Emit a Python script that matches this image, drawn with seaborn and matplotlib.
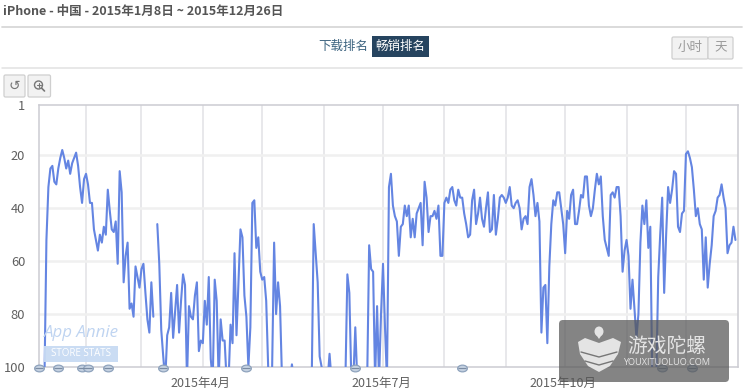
import matplotlib
matplotlib.use('Agg')
import matplotlib.pyplot as plt
import matplotlib.dates as mdates
from matplotlib.patches import Circle, Ellipse, FancyBboxPatch, Polygon, Rectangle
from matplotlib.path import Path
from matplotlib.transforms import Affine2D, ScaledTranslation
import pandas as pd
import seaborn as sns

n = None
rank = [
    n, n, n, 105, 52, 32, 25, 24, 30, 31,
    25, 21, 18, 21, 25, 22, 27, 23, 21, 19,
    24, 32, 38, 29, 27, 31, 38, 38, 48, 52,
    56, 50, 53, 47, 50, 33, 41, 48, 49, 45,
    61, 26, 34, 68, 58, 53, 78, 76, 81, 62,
    66, 70, 63, 61, 72, 82, 87, 68, 81, n,
    46, 61, 86, 96, 105, 88, 85, 72, 89, 79,
    69, 87, 75, 65, 69, 105, 77, 81, 82, 73,
    68, 94, 90, 91, 75, 84, 66, 97, 105, 67,
    75, 105, 82, 90, 90, 105, 105, 84, 91, 57,
    88, 68, 48, 51, 73, 81, 100, 85, 38, 37,
    55, 51, 64, 67, 66, 75, 100, 105, 100, 53,
    80, 68, 77, 105, n, n, n, 105, 99, 105,
    n, n, n, n, n, n, n, n, 105, 46,
    57, 68, 96, 100, 105, n, 105, 95, 105, n,
    n, n, n, n, n, 105, 65, 72, 105, 105,
    85, 105, n, n, n, n, 105, 54, 63, 64,
    105, 77, 105, 80, 61, 85, 105, 32, 27, 39,
    43, 45, 58, 47, 46, 39, 43, 39, 51, 44,
    51, 42, 40, 38, 54, 30, 36, 49, 43, 43,
    41, 44, 39, 58, 58, 38, 36, 38, 33, 32,
    37, 39, 33, 36, 36, 42, 46, 51, 50, 37,
    33, 46, 42, 36, 44, 47, 40, 34, 49, 48,
    35, 50, 44, 36, 35, 36, 38, 36, 32, 39,
    40, 38, 37, 40, 48, 44, 43, 46, 32, 29,
    35, 43, 38, 45, 87, 70, 69, 91, 62, 46,
    37, 39, 34, 34, 40, 46, 57, 41, 44, 35,
    33, 46, 46, 41, 35, 36, 28, 28, 39, 43,
    40, 33, 27, 31, 28, 43, 52, 55, 58, 35,
    34, 36, 32, 32, 43, 64, 56, 52, 58, 78,
    67, 78, 89, 80, 53, 39, 46, 37, 55, 47,
    105, 105, 105, 66, 50, 36, 72, 50, 32, 38,
    33, 26, 27, 47, 49, 42, 41, 19.5, 18.5, 21,
    24.5, 33, 43, 40, 46, 48, 67, 51, 70, 61,
    54, 43, 41, 36, 35, 31, 36, 40, 57, 54,
    53, 47, 52,
]
y_ticks = [1, 20, 40, 60, 80, 100]
note_dates = ['2015-01-08', '2015-01-18', '2015-01-30', '2015-02-02', '2015-02-12',
              '2015-03-12', '2015-04-23', '2015-06-17', '2015-08-10', '2015-11-19', '2015-12-04']
quarter_labels = {4: '2015年4月', 7: '2015年7月', 10: '2015年10月'}

df = pd.DataFrame({'date': pd.date_range('2015-01-08', periods=len(rank)),
                   'rank': pd.array(rank, dtype='Float64').astype(float)})
df['segment'] = df['rank'].isna().cumsum()
df = df.dropna()

sns.set_style('white')
plt.rcParams['font.family'] = ['Noto Sans CJK SC', 'DejaVu Sans']

W, H = 744, 392
fig = plt.figure(figsize=(W / 100, H / 100), dpi=100, facecolor='white')
ax = fig.add_axes([38.5 / W, 1 - 367 / H, 699.5 / W, 262 / H])

sns.lineplot(data=df, x='date', y='rank', units='segment', estimator=None,
             color='#6485e2', linewidth=1.5, ax=ax, legend=False, zorder=3)

ax.set_xlim(pd.Timestamp('2015-01-08'), pd.Timestamp('2015-12-27 07:00'))
ax.set_ylim(100, 1)
ax.set_xlabel('')
ax.set_ylabel('')
ax.set_yticks(y_ticks)
ax.tick_params(axis='y', length=0, labelsize=9.3, labelcolor='#606060', pad=9.5)
ax.xaxis.set_major_locator(mdates.MonthLocator())
ax.xaxis.set_major_formatter(plt.FuncFormatter(
    lambda v, p: quarter_labels.get(mdates.num2date(v).month, '')))
ax.tick_params(axis='x', length=0, labelsize=9, labelcolor='#606060', pad=7)
shift = ScaledTranslation(-2 / 100, 0, fig.dpi_scale_trans)
for lab in ax.get_xticklabels():
    lab.set_transform(lab.get_transform() + shift)
ax.grid(axis='x', color='#e4e4e8', linewidth=1.2)
for v in y_ticks[1:-1]:
    ax.axhline(v, color='#f0f0f0', linewidth=1.8, zorder=1)
for s in ax.spines.values():
    s.set_color('#ccccd2')
    s.set_linewidth(1.1)

# comment bubbles on the date axis
note_x = pd.to_datetime(note_dates)
bubble = Path.unit_circle().transformed(Affine2D().scale(1.45, 1))
ax.plot(note_x, [100.5] * len(note_x), linestyle='', marker=bubble, ms=7, mfc='#c3d0e0',
        mec='#8fa3bd', mew=0.9, clip_on=False, zorder=5)
ax.plot(note_x, [100.5] * len(note_x), linestyle='', marker='_', ms=6, mec='#7b8ca3',
        mew=0.8, clip_on=False, zorder=6)

# page furniture, in pixel coordinates
ov = fig.add_axes([0, 0, 1, 1], zorder=10)
ov.set_xlim(0, W)
ov.set_ylim(H, 0)
ov.axis('off')
ov.patch.set_alpha(0)

ov.text(3, 11.5, 'iPhone - 中国 - 2015年1月8日 ~ 2015年12月26日', fontsize=9,
        fontweight='bold', color='#555555', va='center')
ov.plot([2, 742], [27, 27], color='#d8d8d8', lw=1.3)
ov.plot([2, 742], [68, 68], color='#e2e2e2', lw=1.1)

ov.text(343, 46.5, '下载排名', fontsize=9, color='#3d6480', ha='center', va='center')
ov.add_patch(Rectangle((372, 36), 57, 21, fc='#26445f', ec='none'))
ov.text(400.5, 46.5, '畅销排名', fontsize=9, color='white', ha='center', va='center')


def button(x0, y0, x1, y1):
    ov.add_patch(FancyBboxPatch((x0, y0), x1 - x0, y1 - y0,
                                boxstyle='round,pad=0,rounding_size=1.5',
                                fc='#f2f2f2', ec='#cfcfcf', lw=0.9))


button(672, 37, 708, 59)
button(708, 37, 733, 59)
ov.text(690, 47.5, '小时', fontsize=9, color='#999999', ha='center', va='center')
ov.text(720.5, 47.5, '天', fontsize=9, color='#999999', ha='center', va='center')

button(4, 75, 25, 97)
button(28, 75, 50.5, 97)
ov.text(14.5, 86, '↺', fontsize=10, color='#777777', ha='center', va='center',
        family='DejaVu Sans')
ov.add_patch(Circle((38.5, 85), 4, fc='none', ec='#777777', lw=1))
ov.plot([41.5, 44.5], [88, 91], color='#777777', lw=1.2)
ov.plot([36.5, 40.5], [85, 85], color='#777777', lw=0.8)
ov.plot([38.5, 38.5], [83, 87], color='#777777', lw=0.8)

# App Annie watermark
ov.text(81, 333, 'App Annie', fontsize=12.2, style='italic', color='#bfd4f1',
        ha='center', va='center', family='Open Sans')
ov.add_patch(Rectangle((44, 345.5), 74, 16, fc='#c7daf3', ec='none', alpha=0.95))
ov.text(81, 353.5, 'STORE STATS', fontsize=7, color='white', ha='center', va='center',
        family='Open Sans')

# site watermark
ov.add_patch(FancyBboxPatch((559, 320), 170, 62, boxstyle='round,pad=0,rounding_size=4',
                            fc='#555555', ec='none', alpha=0.72))
ov.add_patch(Ellipse((599, 331.5), 9, 10, fc='#e4e4e4', ec='none'))
ov.add_patch(Polygon([[595, 333], [603, 333], [599, 339]], fc='#e4e4e4', ec='none'))
ov.add_patch(Polygon([[578, 342], [585, 338], [599, 343], [613, 338], [621, 342], [618, 354],
                      [610, 366], [599, 372], [588, 366], [580, 354]], fc='#e4e4e4', ec='none'))
ov.plot([581, 599, 617], [352, 357, 352], color='#777777', lw=1)
ov.plot([585, 599, 613], [361, 365, 361], color='#777777', lw=1)
ov.text(666.5, 346.5, '游戏陀螺', fontsize=14.2, color='#e4e4e4', ha='center', va='center')
ov.text(666.5, 362.5, 'YOUXITUOLUO.COM', fontsize=6.6, color='#e4e4e4', ha='center', va='center',
        family='Open Sans')

fig.savefig('out.png', dpi=100)
